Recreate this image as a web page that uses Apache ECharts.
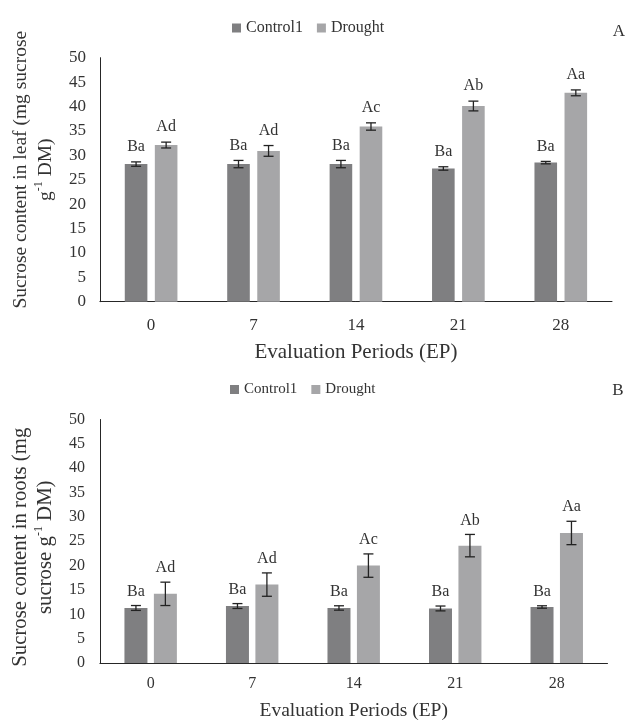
<!DOCTYPE html>
<html><head><meta charset="utf-8">
<script src="https://cdn.jsdelivr.net/npm/echarts@6/dist/echarts.min.js"></script>
<style>html,body{margin:0;padding:0;background:#fff}#c{width:625px;height:722px}</style>
</head><body><div id="c"></div>
<script>
// ---- data ----
const categories = ['0', '7', '14', '21', '28'];
const seriesNames = ['Control1', 'Drought'];
const yTickMin = 0, yTickMax = 50, yTickStep = 5;

// Panel A: leaf
const leafControl = [28.2, 28.2, 28.2, 27.3, 28.5];
const leafControlErr = [0.45, 0.75, 0.75, 0.35, 0.25];
const leafDrought = [32.1, 30.9, 35.9, 40.1, 42.8];
const leafDroughtErr = [0.6, 1.1, 0.75, 1.0, 0.6];
const leafControlLetters = ['Ba', 'Ba', 'Ba', 'Ba', 'Ba'];
const leafDroughtLetters = ['Ad', 'Ad', 'Ac', 'Ab', 'Aa'];

// Panel B: roots
const rootControl = [11.3, 11.7, 11.3, 11.2, 11.5];
const rootControlErr = [0.5, 0.5, 0.45, 0.5, 0.25];
const rootDrought = [14.2, 16.1, 20.0, 24.1, 26.7];
const rootDroughtErr = [2.4, 2.4, 2.4, 2.3, 2.4];
const rootControlLetters = ['Ba', 'Ba', 'Ba', 'Ba', 'Ba'];
const rootDroughtLetters = ['Ad', 'Ad', 'Ac', 'Ab', 'Aa'];

// ---- style ----
const FONT = '"Liberation Serif", "Times New Roman", serif';
const TXT = '#333333';
const C_CTRL = '#7f7f81';
const C_DRT = '#a6a6a8';
const ERR = '#222222';

const chart = echarts.init(document.getElementById('c'), null, {renderer: 'canvas'});

function errSeries(name, gridIdx, vals, errs, letters, offset, labelGap, fs) {
  return {
    type: 'custom',
    name: name + ' err',
    xAxisIndex: gridIdx, yAxisIndex: gridIdx,
    silent: true, z: 5,
    data: vals.map((v, i) => [i, v, errs[i]]),
    renderItem: function (params, api) {
      const i = api.value(0), v = api.value(1), e = api.value(2);
      const t = api.coord([i, v + e]);
      const b = api.coord([i, v - e]);
      const x = t[0] + offset;
      const cap = 5;
      const ls = {stroke: ERR, lineWidth: 1.3};
      return {
        type: 'group',
        children: [
          {type: 'line', shape: {x1: x, y1: t[1], x2: x, y2: b[1]}, style: ls},
          {type: 'line', shape: {x1: x - cap, y1: t[1], x2: x + cap, y2: t[1]}, style: ls},
          {type: 'line', shape: {x1: x - cap, y1: b[1], x2: x + cap, y2: b[1]}, style: ls},
          {type: 'text', x: x, y: t[1] - labelGap,
            style: {text: letters[params.dataIndex], align: 'center', verticalAlign: 'middle',
              fontSize: fs, fontFamily: FONT, fill: TXT}}
        ]
      };
    }
  };
}

function barSeries(name, gridIdx, vals, color, bw, gap) {
  return {
    type: 'bar', name: name, xAxisIndex: gridIdx, yAxisIndex: gridIdx,
    data: vals, barWidth: bw, barGap: gap,
    itemStyle: {color: color}, silent: true
  };
}

function yAxis(gridIdx, nameText, gap, fs, nfs, pad, margin) {
  return {
    gridIndex: gridIdx, type: 'value', min: yTickMin, max: yTickMax, interval: yTickStep,
    axisLine: {show: true, lineStyle: {color: '#262626', width: 1}},
    axisTick: {show: false}, splitLine: {show: false},
    axisLabel: {fontSize: fs, fontFamily: FONT, color: TXT, margin: margin},
    name: nameText, nameLocation: 'middle', nameGap: gap,
    nameTextStyle: {fontSize: nfs, fontFamily: FONT, color: TXT, lineHeight: 25, padding: pad,
      rich: {sup: {fontSize: 12, fontFamily: FONT, color: TXT, verticalAlign: 'top', lineHeight: 16}}}
  };
}

function xAxis(gridIdx, fs, nfs, gap, margin) {
  return {
    gridIndex: gridIdx, type: 'category', data: categories,
    axisLine: {show: true, lineStyle: {color: '#262626', width: 1}},
    axisTick: {show: false}, splitLine: {show: false},
    axisLabel: {fontSize: fs, fontFamily: FONT, color: TXT, margin: margin},
    name: 'Evaluation Periods (EP)', nameLocation: 'middle', nameGap: gap,
    nameTextStyle: {fontSize: nfs, fontFamily: FONT, color: TXT}
  };
}

const BW_A = 22.6, GAP_A = 0.33;
const BW_B = 23, GAP_B = 0.28;
const offA = BW_A * (1 + GAP_A) / 2;
const offB = BW_B * (1 + GAP_B) / 2;

chart.setOption({
  backgroundColor: '#fff',
  animation: false,
  textStyle: {fontFamily: FONT},
  grid: [
    {left: 90, right: 13, top: 57.7, bottom: 420.3},
    {left: 92.5, right: 17.5, top: 419.5, bottom: 58}
  ],
  legend: [
    {left: 227, top: 15, icon: 'rect', itemWidth: 9, itemHeight: 9, itemGap: 14,
      textStyle: {fontSize: 16, fontFamily: FONT, color: TXT}, data: seriesNames, selectedMode: false},
    {left: 225, top: 377, icon: 'rect', itemWidth: 9, itemHeight: 9, itemGap: 14,
      textStyle: {fontSize: 15, fontFamily: FONT, color: TXT}, data: seriesNames, selectedMode: false}
  ],
  xAxis: [xAxis(0, 17, 21, 40, 15), xAxis(1, 16, 19.5, 38, 13)],
  yAxis: [
    yAxis(0, 'Sucrose content in leaf (mg sucrose\ng{sup|-1} DM)', 33, 17, 19.5, [0, 0, 0, 20], 14),
    yAxis(1, 'Sucrose content in roots (mg\nsucrose g{sup|-1} DM)', 35, 16, 20.8, [0, 12, 0, 0], 15)
  ],
  graphic: [
    {type: 'text', x: 619, y: 32, style: {text: 'A', align: 'center', verticalAlign: 'middle', fontSize: 17, fontFamily: FONT, fill: TXT}},
    {type: 'text', x: 618, y: 391, style: {text: 'B', align: 'center', verticalAlign: 'middle', fontSize: 17, fontFamily: FONT, fill: TXT}}
  ],
  series: [
    barSeries('Control1', 0, leafControl, C_CTRL, BW_A, (GAP_A * 100) + '%'),
    barSeries('Drought', 0, leafDrought, C_DRT, BW_A, (GAP_A * 100) + '%'),
    barSeries('Control1', 1, rootControl, C_CTRL, BW_B, (GAP_B * 100) + '%'),
    barSeries('Drought', 1, rootDrought, C_DRT, BW_B, (GAP_B * 100) + '%'),
    errSeries('Control1', 0, leafControl, leafControlErr, leafControlLetters, -offA, 15, 16),
    errSeries('Drought', 0, leafDrought, leafDroughtErr, leafDroughtLetters, offA, 15, 16),
    errSeries('Control1', 1, rootControl, rootControlErr, rootControlLetters, -offB, 14, 16),
    errSeries('Drought', 1, rootDrought, rootDroughtErr, rootDroughtLetters, offB, 14, 16)
  ]
});
</script>
</body></html>
